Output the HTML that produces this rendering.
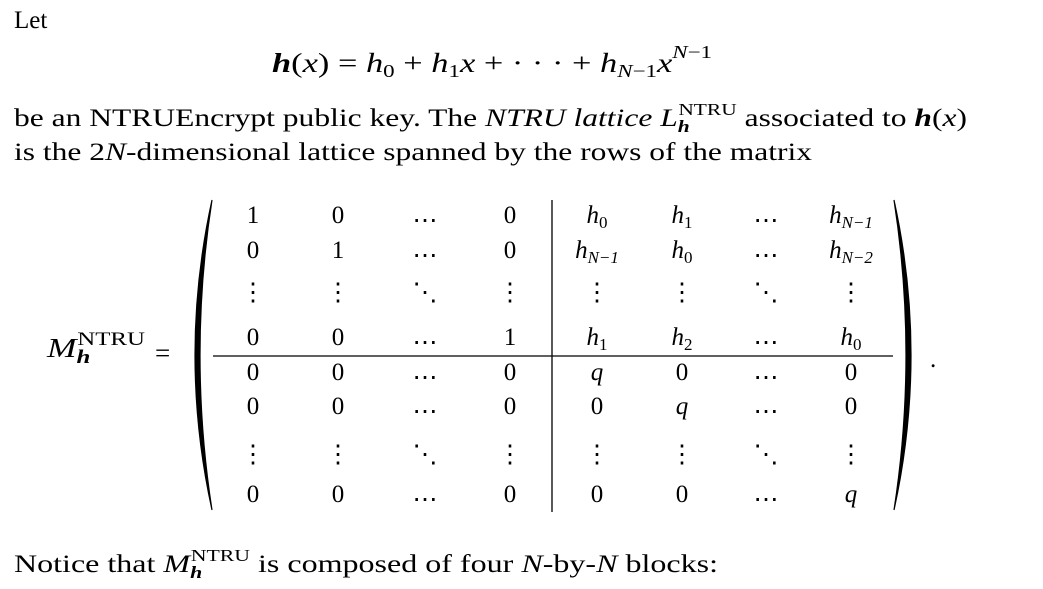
<!DOCTYPE html>
<html><head><meta charset="utf-8"><style>
html,body{margin:0;padding:0;background:#fff;}
svg{display:block;}
text{font-family:"Liberation Serif",serif;fill:#000;}
.i{font-style:italic;}
.b{font-weight:bold;font-style:italic;}
</style></head><body>
<svg width="1043" height="589" viewBox="0 0 1043 589">
<text x="14" y="28" font-size="25">Let</text>
<text x="272" y="72" font-size="27" textLength="440" lengthAdjust="spacingAndGlyphs"><tspan class="b">h</tspan>(<tspan class="i">x</tspan>) = <tspan class="i">h</tspan><tspan font-size="18" dy="5">0</tspan><tspan dy="-5"> + </tspan><tspan class="i">h</tspan><tspan font-size="18" dy="5">1</tspan><tspan dy="-5" class="i">x</tspan> + · · · + <tspan class="i">h</tspan><tspan font-size="18" dy="5" class="i">N</tspan><tspan font-size="18">−1</tspan><tspan dy="-5" class="i">x</tspan><tspan font-size="18" dy="-14" class="i">N</tspan><tspan font-size="18">−1</tspan></text>
<text x="14" y="126" font-size="25" textLength="953" lengthAdjust="spacingAndGlyphs">be an NTRUEncrypt public key. The <tspan class="i">NTRU lattice L</tspan><tspan font-size="17" dy="6" class="b">h</tspan><tspan font-size="17" dx="-9" dy="-17">NTRU</tspan><tspan dy="11"> associated to </tspan><tspan class="b">h</tspan>(<tspan class="i">x</tspan>)</text>
<text x="14" y="160" font-size="25" textLength="798" lengthAdjust="spacingAndGlyphs">is the 2<tspan class="i">N</tspan>-dimensional lattice spanned by the rows of the matrix</text>

<text x="47" y="357" font-size="27" textLength="98" lengthAdjust="spacingAndGlyphs"><tspan class="i">M</tspan><tspan font-size="19" class="b" dy="6">h</tspan><tspan font-size="19" dx="-10" dy="-18">NTRU</tspan></text>
<text x="155" y="362" font-size="27">=</text>

<path d="M212,200 Q178,355 212,510 Q188,355 212,200 Z" fill="#000" stroke="#000" stroke-width="1.2"/>
<path d="M894,200 Q928,355 894,510 Q918,355 894,200 Z" fill="#000" stroke="#000" stroke-width="1.2"/>
<line x1="213" y1="356" x2="893" y2="356" stroke="#000" stroke-width="1.3"/>
<line x1="552" y1="200" x2="552" y2="512" stroke="#000" stroke-width="1.3"/>

<g id="cells" font-size="25" text-anchor="middle"></g>
<text x="930" y="367" font-size="25">.</text>

<text x="14" y="572" font-size="25" textLength="704" lengthAdjust="spacingAndGlyphs">Notice that <tspan class="i">M</tspan><tspan font-size="17" class="b" dy="6">h</tspan><tspan font-size="17" dx="-9" dy="-17">NTRU</tspan><tspan dy="11"> is composed of four </tspan><tspan class="i">N</tspan>-by-<tspan class="i">N</tspan> blocks:</text>
</svg>
<script>
const colX=[253,338,425,510,597,682,766,851];
const rowY=[223,258,300,345,380,414,462,502];
const rows=[
 ["1","0","⋯","0","h0","h1","⋯","hN−1"],
 ["0","1","⋯","0","hN−1","h0","⋯","hN−2"],
 ["⋮","⋮","⋱","⋮","⋮","⋮","⋱","⋮"],
 ["0","0","⋯","1","h1","h2","⋯","h0"],
 ["0","0","⋯","0","q","0","⋯","0"],
 ["0","0","⋯","0","0","q","⋯","0"],
 ["⋮","⋮","⋱","⋮","⋮","⋮","⋱","⋮"],
 ["0","0","⋯","0","0","0","⋯","q"]
];
const g=document.getElementById('cells');
const NS="http://www.w3.org/2000/svg";
rows.forEach((r,i)=>r.forEach((v,j)=>{
  const t=document.createElementNS(NS,'text');
  
  
  t.setAttribute('x',colX[j]);
  t.setAttribute('y',rowY[i]+(v==='⋯'?5:0));
  if(v[0]==='h'){
    const a=document.createElementNS(NS,'tspan');a.setAttribute('class','i');a.textContent='h';t.appendChild(a);
    const s=document.createElementNS(NS,'tspan');s.setAttribute('font-size','17');s.setAttribute('dy','5');
    s.textContent=v.slice(1);if(v[1]==='N')s.setAttribute('font-style','italic');t.appendChild(s);
  } else if(v==='q'){t.setAttribute('class','i');t.textContent=v;}
  else t.textContent=v;
  g.appendChild(t);
}));
</script>
</body></html>
